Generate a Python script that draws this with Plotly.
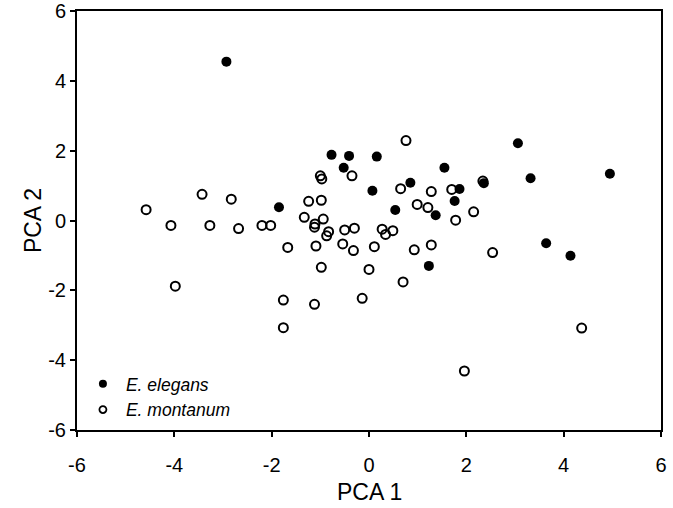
import plotly.graph_objects as go

# E. elegans (filled)
eleg_x = [-2.93, -0.77, -0.41, 0.16, -0.52, 0.07, -1.85, 0.54, 1.37, 1.76, 1.23, 3.64, 4.14, 3.06, 1.55, 3.32, 4.95, 0.85, 1.86, 2.36]
eleg_y = [4.55, 1.88, 1.85, 1.83, 1.51, 0.85, 0.38, 0.30, 0.15, 0.56, -1.30, -0.65, -1.01, 2.21, 1.51, 1.21, 1.34, 1.08, 0.90, 1.07]

# E. montanum (open)
mont_x = [-1.00, -0.97, -0.35, -3.43, -2.83, -1.24, -0.98, -4.58, -4.07, -3.27, -2.68, -2.20, -2.02,
          -1.33, -1.11, -1.12, -0.94, -0.83, -0.87, -0.50, -0.30, 0.27, 0.34, 0.49, -1.67, -1.09,
          -0.54, -0.32, 0.11, -0.98, 0.00, -3.98, -1.76, -1.12, -0.14, -1.76, 0.99, 1.21, 1.78,
          2.15, 0.93, 1.28, 0.70, 2.54, 4.37, 1.96, 0.76, 0.65, 1.28, 1.70, 2.34]
mont_y = [1.28, 1.19, 1.28, 0.75, 0.61, 0.55, 0.58, 0.31, -0.14, -0.14, -0.23, -0.14, -0.14,
          0.09, -0.10, -0.19, 0.04, -0.32, -0.44, -0.27, -0.22, -0.25, -0.40, -0.29, -0.77, -0.73,
          -0.67, -0.86, -0.75, -1.34, -1.40, -1.88, -2.28, -2.40, -2.23, -3.07, 0.46, 0.37, 0.01,
          0.25, -0.84, -0.70, -1.76, -0.92, -3.08, -4.31, 2.29, 0.91, 0.83, 0.89, 1.13]

tick_vals = [-6, -4, -2, 0, 2, 4, 6]
tick_text = ["-6", "-4", "-2", "0", "2", "4", "6"]
x_title = "PCA 1"
y_title = "PCA 2"

FONT = "Liberation Sans, Arial"

fig = go.Figure()
fig.add_trace(go.Scatter(
    x=mont_x, y=mont_y, mode="markers", showlegend=False,
    marker=dict(symbol="circle-open", size=9, color="black", line=dict(width=2, color="black")),
))
fig.add_trace(go.Scatter(
    x=eleg_x, y=eleg_y, mode="markers", showlegend=False,
    marker=dict(symbol="circle", size=10, color="black"),
))
# legend entries (smaller symbols, as in the reference)
fig.add_trace(go.Scatter(
    x=[None], y=[None], mode="markers", name="<i>E. elegans</i>",
    marker=dict(symbol="circle", size=8, color="black"),
))
fig.add_trace(go.Scatter(
    x=[None], y=[None], mode="markers", name="<i>E. montanum</i>",
    marker=dict(symbol="circle-open", size=7, color="black", line=dict(width=1.8, color="black")),
))

axis_common = dict(
    range=[-6, 6], tickvals=tick_vals, ticktext=tick_text, showgrid=False, zeroline=False,
    showline=True, linecolor="black", linewidth=2, mirror=True,
    ticks="outside", ticklen=5, tickwidth=1.5, tickcolor="black",
    tickfont=dict(family=FONT, size=20, color="black"),
    automargin=False,
)

fig.update_layout(
    width=673, height=508,
    margin=dict(l=77, r=12, t=11, b=78),
    paper_bgcolor="white", plot_bgcolor="white",
    font=dict(family=FONT, color="black"),
    xaxis=dict(**axis_common, ticklabelstandoff=11),
    yaxis=dict(**axis_common),
    legend=dict(
        x=0.005, y=0.005, xanchor="left", yanchor="bottom",
        bgcolor="rgba(0,0,0,0)",
        font=dict(family=FONT, size=17.5, color="black"),
        tracegroupgap=0, itemwidth=36,
    ),
    annotations=[
        dict(text=x_title, xref="paper", yref="paper", x=0.5, y=-0.148,
             xanchor="center", yanchor="middle", showarrow=False,
             font=dict(family=FONT, size=23, color="black")),
        dict(text=y_title, xref="paper", yref="paper", x=-0.076, y=0.5,
             xanchor="center", yanchor="middle", showarrow=False, textangle=-90,
             font=dict(family=FONT, size=23, color="black")),
    ],
)

fig.write_html("out.html", config={"displayModeBar": False},
               post_script="document.body.style.margin='0px';document.body.style.overflow='hidden';")
